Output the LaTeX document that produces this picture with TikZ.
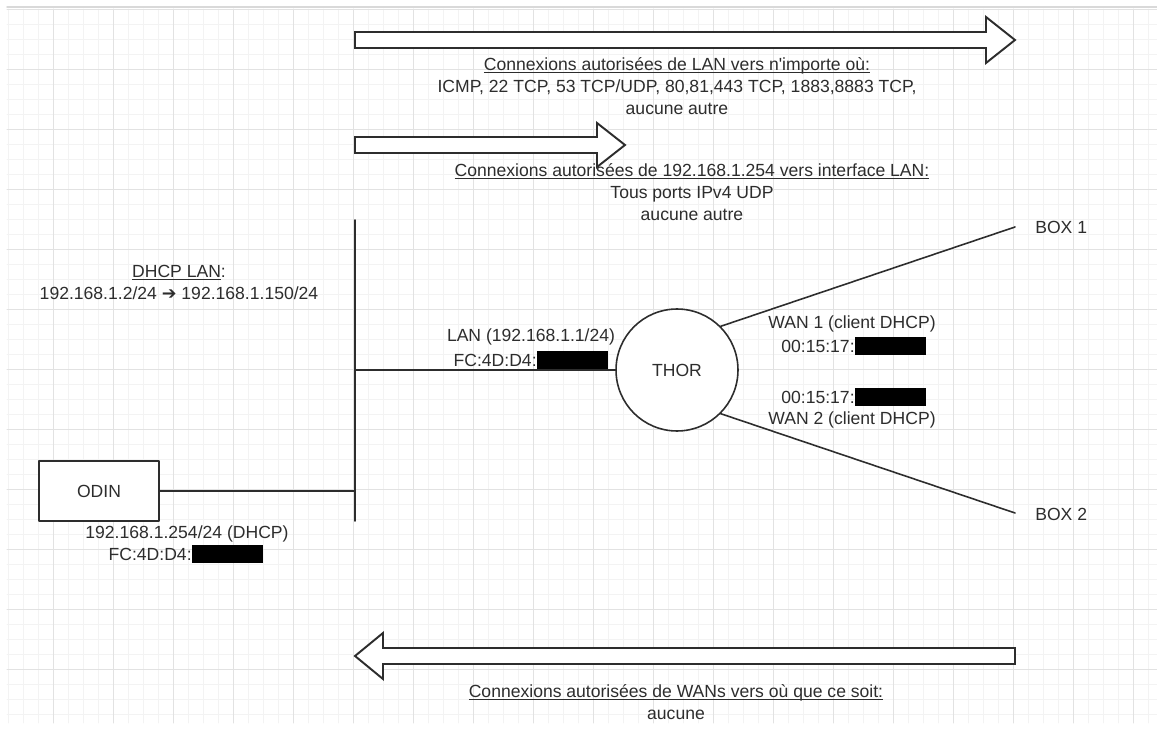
\documentclass[tikz,border=0pt]{standalone}
\usepackage{fontspec}
\setmainfont{Liberation Sans}
\newfontfamily\rawfont{Liberation Sans}
\newfontfamily\symfont{DejaVu Sans}
\usetikzlibrary{positioning}

\definecolor{inkgray}{RGB}{45,45,45}
\definecolor{gridminor}{RGB}{243,243,243}
\definecolor{gridmajor}{RGB}{226,226,226}

% underline that sits just under the baseline
\newcommand\ulbase[1]{\setbox0\hbox{#1}\rlap{\rule[-1.7pt]{\wd0}{0.55pt}}\box0}

\tikzset{
  wire/.style={draw=inkgray, line width=0.9pt},
  bigarrow/.style={draw=inkgray, line width=1.1pt, fill=white, line join=miter},
  lbl/.style={text=inkgray, font=\fontsize{10}{12.5}\selectfont, align=center, inner sep=0pt},
  redact/.style={fill=black, draw=none, inner sep=0pt, minimum width=1.42cm, minimum height=0.36cm},
  hostbox/.style={draw=inkgray, line width=0.9pt, fill=white, minimum width=2.4cm, minimum height=1.2cm,
    text=inkgray, font=\fontsize{10}{12.5}\selectfont},
  router/.style={circle, draw=inkgray, line width=0.9pt, fill=white, minimum size=2.44cm, inner sep=0pt,
    text=inkgray, font=\fontsize{10}{12.5}\selectfont},
}

\begin{document}
\begin{tikzpicture}[x=0.02cm, y=-0.02cm, line cap=round, line join=round]
  \useasboundingbox (0,0) rectangle (1157,729);
  \fill[white] (0,0) rectangle (1157,729);

  % background grid
  \foreach \gx in {8,23,...,1157} \draw[gridminor, line width=0.5pt] (\gx,9) -- (\gx,723);
  \foreach \gy in {9,24,...,723} \draw[gridminor, line width=0.5pt] (7,\gy) -- (1157,\gy);
  \foreach \gx in {53,113,...,1157} \draw[gridmajor, line width=0.5pt] (\gx,9) -- (\gx,723);
  \foreach \gy in {9,69,...,723} \draw[gridmajor, line width=0.5pt] (7,\gy) -- (1157,\gy);
  \draw[gray!30, line width=0.8pt] (7,7) -- (1157,7);

  % flow arrows
  \draw[bigarrow] (355,32) -- (986,32) -- (986,17) -- (1015,40) -- (986,63) -- (986,48) -- (355,48) -- cycle;
  \draw[bigarrow] (355,137) -- (597,137) -- (597,123) -- (625,145) -- (597,167) -- (597,153) -- (355,153) -- cycle;
  \draw[bigarrow] (1015,648) -- (383,648) -- (383,633) -- (355,656) -- (383,679) -- (383,664) -- (1015,664) -- cycle;

  \node[lbl] (rulelan) at (677,86) {\ulbase{Connexions autorisées de LAN vers n{\rawfont'}importe où:}\\
    ICMP, 22 TCP, 53 TCP/UDP, 80,81,443 TCP, 1883,8883 TCP,\\ aucune autre};
  \node[lbl] (ruleodin) at (692,192) {\ulbase{Connexions autorisées de 192.168.1.254 vers interface LAN:}\\
    Tous ports IPv4 UDP\\ aucune autre};
  \node[lbl] (rulewan) at (676,702) {\ulbase{Connexions autorisées de WANs vers où que ce soit:}\\ aucune};

  % LAN bus
  \coordinate (busTop) at (355,220);
  \coordinate (busBot) at (355,521);
  \coordinate (busLan) at (355,370);
  \coordinate (busOdin) at (355,491);
  \draw[wire] (busTop) -- (busBot);

  \node[lbl] (dhcplan) at (179,282) {\ulbase{DHCP LAN}:\\ 192.168.1.2/24 {\symfont ➔} 192.168.1.150/24};

  % hosts
  \node[router] (thor) at (677,370) {THOR};
  \node[hostbox] (odin) at (99,491) {ODIN};
  \draw[wire] (busLan) -- (thor);
  \draw[wire] (odin) -- (busOdin);

  \node[lbl] (odinip) at (187,534) {192.168.1.254/24 (DHCP)};
  \node[lbl, anchor=east] (odinmac) at (192,554) {FC:4D:D4:};
  \node[redact, right=0pt of odinmac] (odinhide) {};

  \node[lbl] (lanip) at (531,337) {LAN (192.168.1.1/24)};
  \node[lbl, anchor=east] (lanmac) at (537,360) {FC:4D:D4:};
  \node[redact, right=0pt of lanmac] (lanhide) {};

  % WAN side
  \coordinate (box1end) at (1015,227);
  \coordinate (box2end) at (1015,513);
  \node[lbl, anchor=west] (box1) at (1035,227) {BOX 1};
  \node[lbl, anchor=west] (box2) at (1035,514) {BOX 2};
  \draw[wire] (thor.45) -- (box1end);
  \draw[wire] (thor.-45) -- (box2end);

  \node[lbl] (wan1) at (852,324) {WAN 1 (client DHCP)};
  \node[lbl, anchor=east] (wan1mac) at (855,346) {00:15:17:};
  \node[redact, right=0pt of wan1mac] (wan1hide) {};
  \node[lbl, anchor=east] (wan2mac) at (855,397) {00:15:17:};
  \node[redact, right=0pt of wan2mac] (wan2hide) {};
  \node[lbl] (wan2) at (852,420) {WAN 2 (client DHCP)};
\end{tikzpicture}
\end{document}
